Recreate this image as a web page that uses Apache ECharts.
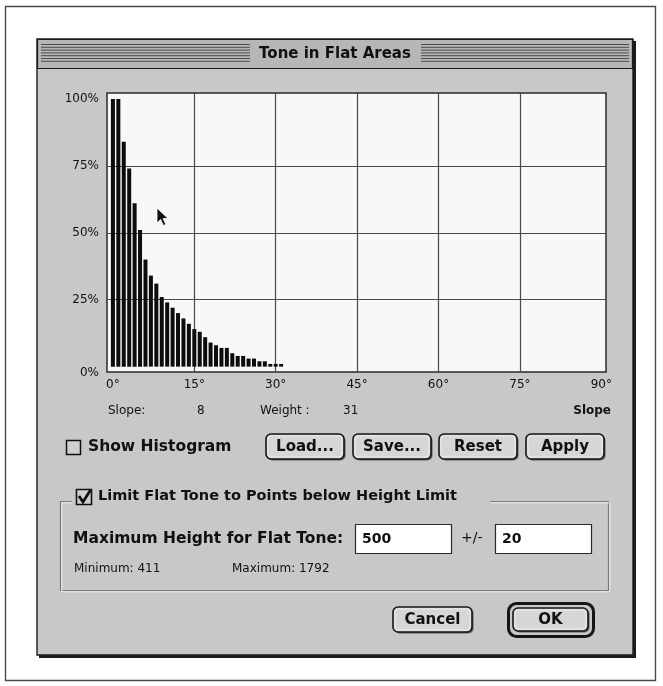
<!DOCTYPE html>
<html><head><meta charset="utf-8">
<script src="https://cdn.jsdelivr.net/npm/echarts@6.0.0/dist/echarts.min.js"></script>
<style>html,body{margin:0;padding:0;background:#ffffff}#c{width:663px;height:686px}</style>
</head><body><div id="c"></div>
<script>
// ---- data ----
const slopes  = [0,1,2,3,4,5,6,7,8,9,10,11,12,13,14,15,16,17,18,19,20,21,22,23,24,25,26,27,28,29,30,31];
const weights = [100,100,84,74,61,51,40,34,31,26,24,22,20,18,16,14,13,11,9,8,7,7,5,4,4,3,3,2,2,1,1,1];
const xTickLabels = [0,15,30,45,60,75,90];
const yTickLabels = [0,25,50,75,100];
const xGridLines = [15,30,45,60,75];
const yGridLines = [25,50,75];
const readout = {slope: 8, weight: 31};
const heightLimit = {value: 500, tol: 20, min: 411, max: 1792};

const F = '"DejaVu Sans", Verdana, sans-serif';
const INK = '#111111';
function txt(x, y, s, size, bold, align) {
  return {type:'text', x:x, y:y, z:30, silent:true, style:{text:String(s), fill:INK,
    font:(bold?'bold ':'')+size+'px '+F, align:align||'left', verticalAlign:'middle'}};
}
function rect(x,y,w,h,style,r,z){
  return {type:'rect', z:(z===undefined?-5:z), silent:true, shape:{x:x,y:y,width:w,height:h,r:r||0}, style:style};
}
function line(x1,y1,x2,y2,stroke,lw,z){
  return {type:'line', z:(z===undefined?-4:z), silent:true, shape:{x1:x1,y1:y1,x2:x2,y2:y2}, style:{stroke:stroke,lineWidth:lw}};
}
function button(x,y,w,h,label){
  return [
    rect(x+1.5,y+1.5,w,h,{fill:'#5a5a5a'},5,-3),
    rect(x,y,w,h,{fill:'#d6d6d6',stroke:'#161616',lineWidth:1.6},5,-2),
    rect(x+2,y+2,w-4,h-4,{fill:'none',stroke:'#ececec',lineWidth:1},3,-1),
    txt(x+w/2, y+h/2+0.5, label, 15, true, 'center')
  ];
}

const g = [];
// page frame
g.push(rect(5.5,6.5,650,674,{fill:'#ffffff',stroke:'#4a4a4a',lineWidth:1.4},0,-20));
// dialog shadow + body
g.push(rect(39,41,597,617,{fill:'#1c1c1c'},0,-19));
g.push(rect(37,39,596,616,{fill:'#c8c8c8',stroke:'#1c1c1c',lineWidth:1.4},0,-18));
// title bar
g.push(rect(37.5,39.5,595,29,{fill:'#b6b6b6',stroke:'#1c1c1c',lineWidth:1.2},0,-17));
for (let i=0;i<7;i++){
  const yy = 44.5 + i*2.8;
  g.push(line(41,yy,250,yy,'#4c4c4c',1,-16));
  g.push(line(421,yy,629,yy,'#4c4c4c',1,-16));
}
g.push(txt(335,54,'Tone in Flat Areas',15,true,'center'));

// readouts
g.push(txt(108,411,'Slope:',12,false));
g.push(txt(197,411,readout.slope,12,false));
g.push(txt(260,411,'Weight :',12,false));
g.push(txt(343,411,readout.weight,12,false));
g.push(txt(611,411,'Slope',12,true,'right'));

// show histogram checkbox
g.push(rect(66.5,440.5,14,14,{fill:'#cfcfcf',stroke:INK,lineWidth:1.5},0,-2));
g.push(txt(88,447,'Show Histogram',15.5,true));

// buttons
[['Load...',266],['Save...',353],['Reset',439],['Apply',526]].forEach(function(b){
  button(b[1],434,78,25,b[0]).forEach(function(e){g.push(e);});
});

// group box (etched)
g.push({type:'polyline', z:-4, silent:true, shape:{points:[[72,501.5],[60.5,501.5],[60.5,590.5],[608.5,590.5],[608.5,501.5],[490,501.5]]},
  style:{stroke:'#777777',lineWidth:1.2,fill:'none'}});
g.push({type:'polyline', z:-4, silent:true, shape:{points:[[72,502.8],[61.8,502.8],[61.8,591.8],[609.8,591.8],[609.8,502.8],[490,502.8]]},
  style:{stroke:'#eeeeee',lineWidth:1,fill:'none'}});
g.push(rect(76.5,489.5,15,15,{fill:'#cfcfcf',stroke:INK,lineWidth:1.6},0,-2));
g.push({type:'polyline', z:-1, silent:true, shape:{points:[[79,496],[83,502],[90.5,490]]}, style:{stroke:INK,lineWidth:2.8,fill:'none'}});
g.push(txt(98,496,'Limit Flat Tone to Points below Height Limit',14.5,true));

g.push(txt(73,538.5,'Maximum Height for Flat Tone:',15.5,true));
g.push(rect(355.5,524.5,96,29,{fill:'#ffffff',stroke:'#2a2a2a',lineWidth:1.2},0,-2));
g.push(txt(362,539,heightLimit.value,14,true));
g.push(txt(461,538.5,'+/-',14,false));
g.push(rect(495.5,524.5,96,29,{fill:'#ffffff',stroke:'#2a2a2a',lineWidth:1.2},0,-2));
g.push(txt(502,539,heightLimit.tol,14,true));
g.push(txt(74,569,'Minimum: '+heightLimit.min,12,false));
g.push(txt(232,569,'Maximum: '+heightLimit.max,12,false));

// bottom buttons
button(393,607,79,25,'Cancel').forEach(function(e){g.push(e);});
g.push(rect(508.5,603.5,85,33,{fill:'none',stroke:'#161616',lineWidth:3},8,-3));
button(513,608,75,23,'OK').forEach(function(e){g.push(e);});

// cursor arrow
const tip=[157,208];
const arrow=[[0,0],[0,15],[3.6,11.4],[6.4,17.5],[8.8,16.4],[6.1,10.5],[11,10.5]].map(function(p){return [tip[0]+p[0],tip[1]+p[1]];});
g.push({type:'polygon', z:40, silent:true, shape:{points:arrow}, style:{fill:'#111',stroke:'#ffffff',lineWidth:0.8}});

const chart = echarts.init(document.getElementById('c'), null, {renderer:'canvas'});
chart.setOption({
  animation:false,
  backgroundColor:'#ffffff',
  graphic: g,
  grid:{left:107, top:93, width:499, height:279, show:true, backgroundColor:'#f8f8f8',
        borderColor:'#2a2a2a', borderWidth:1.5, containLabel:false, outerBoundsMode:'none'},
  xAxis:{type:'value', min:-1.09, max:90.87,
    axisLine:{show:false},
    axisTick:{show:false, customValues:xGridLines},
    splitLine:{show:true, lineStyle:{color:'#4a4a4a', width:1.2}},
    axisLabel:{customValues:xTickLabels, formatter:function(v){return v+'°';},
      color:INK, fontFamily:F, fontSize:12, margin:7}
  },
  yAxis:{type:'value', min:-2, max:102.2,
    axisLine:{show:false},
    axisTick:{show:false, customValues:yGridLines},
    splitLine:{show:true, lineStyle:{color:'#4a4a4a', width:1.2}},
    axisLabel:{customValues:yTickLabels, formatter:function(v){return v===0 ? '\n0%' : v+'%';},
      color:INK, fontFamily:F, fontSize:12, margin:8, lineHeight:13, padding:[0,0,5,0]}
  },
  series:[{type:'bar', barWidth:4, itemStyle:{color:'#0c0c0c'},
    data: slopes.map(function(s,i){return [s, weights[i]];})}]
});
</script></body></html>
